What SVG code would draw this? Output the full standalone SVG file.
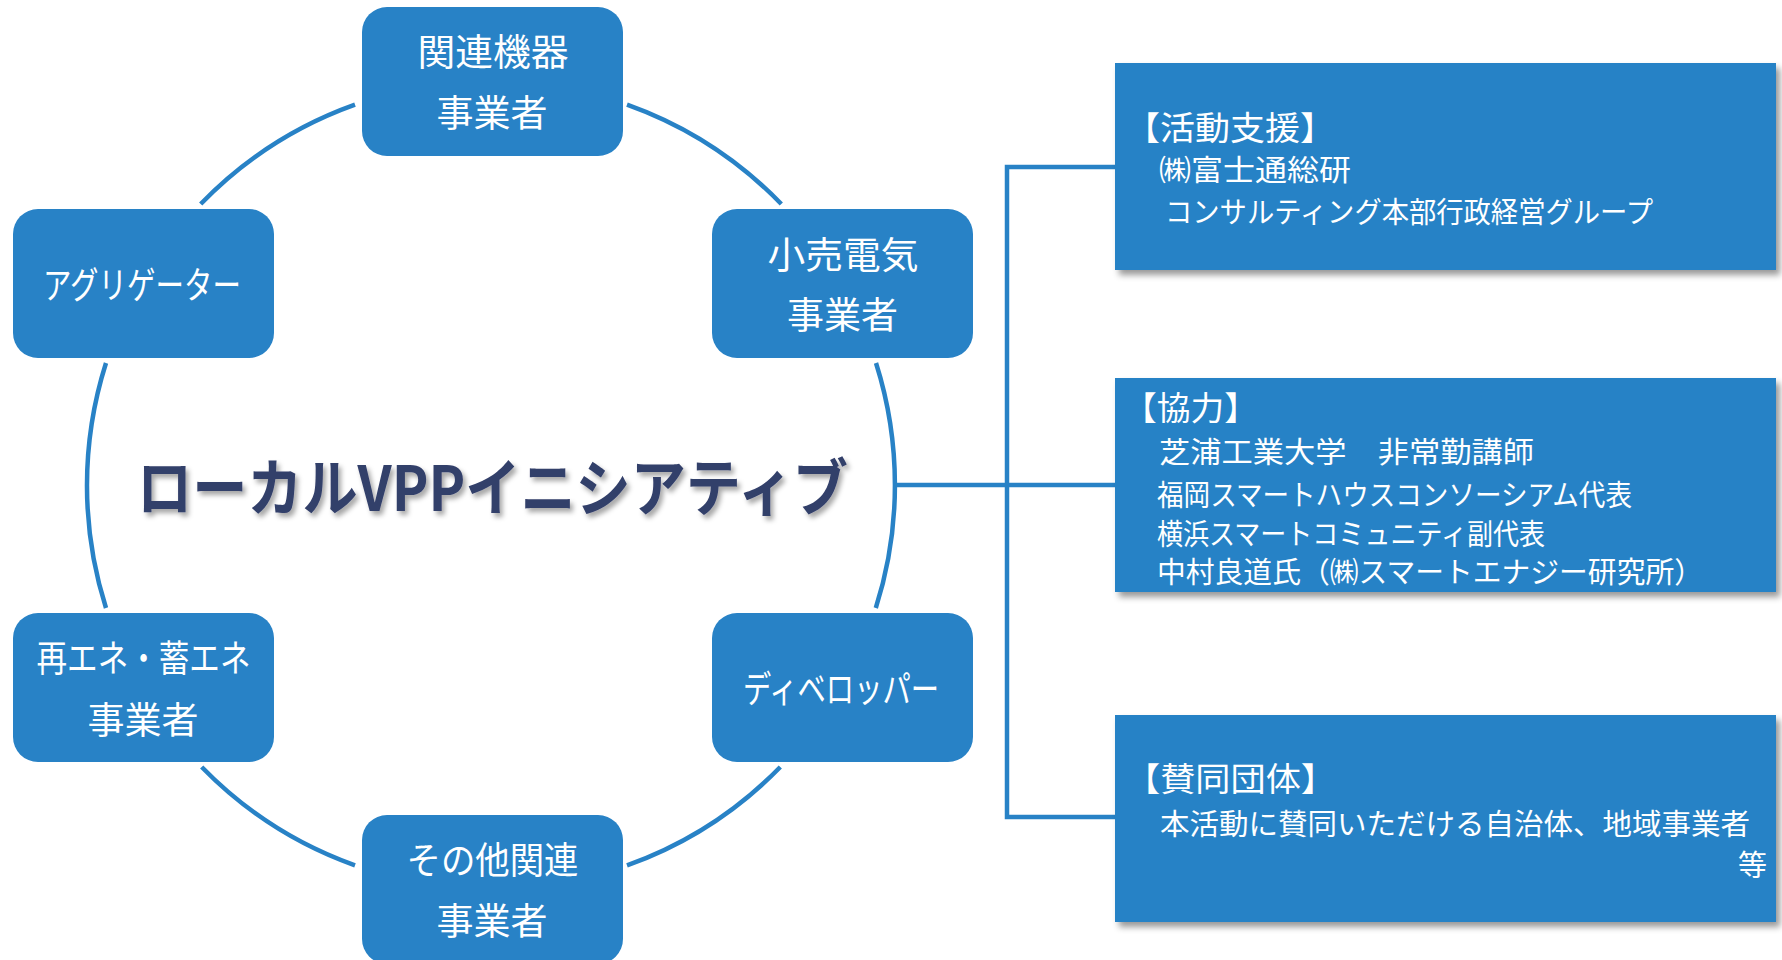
<svg xmlns="http://www.w3.org/2000/svg" width="1782" height="960" viewBox="0 0 1782 960">
  <defs>
    <filter id="boxShadow" x="-5%" y="-10%" width="115%" height="125%">
      <feDropShadow dx="4" dy="5" stdDeviation="3" flood-color="#000" flood-opacity="0.4"/>
    </filter>
    <filter id="titleShadow" x="-5%" y="-20%" width="110%" height="150%">
      <feDropShadow dx="3" dy="4" stdDeviation="2.5" flood-color="#000" flood-opacity="0.35"/>
    </filter>
  </defs>
  <style>
    .node { fill: #2882C6; }
    .box { fill: #2882C6; filter: url(#boxShadow); }
    .conn { fill: none; stroke: #2882C6; stroke-width: 4.5; }
    .nt { font-family: "Noto Sans CJK JP", "Noto Sans", sans-serif; font-size: 37px; fill: #FFFFFF; text-anchor: middle; }
    .hd { font-family: "Noto Sans CJK JP", "Noto Sans", sans-serif; font-size: 33px; fill: #FFFFFF; }
    .bt { font-family: "Noto Sans CJK JP", "Noto Sans", sans-serif; font-size: 29px; fill: #FFFFFF; }
    .title { font-family: "Noto Sans CJK JP", "Noto Sans", sans-serif; font-size: 62px; font-weight: 700; fill: #333F6A; filter: url(#titleShadow); }
  </style>
  <rect width="1782" height="960" fill="#FFFFFF"/>

  <g id="connectors">
    <path class="conn" d="M627,104.6 A404,404 0 0 1 781.3,204"/>
    <path class="conn" d="M876,363 A404,404 0 0 1 875.8,608"/>
    <path class="conn" d="M780.3,767 A404,404 0 0 1 627,865.4"/>
    <path class="conn" d="M355,865.4 A404,404 0 0 1 201.7,767"/>
    <path class="conn" d="M106,608 A404,404 0 0 1 106,363"/>
    <path class="conn" d="M200.7,204 A404,404 0 0 1 355,104.6"/>
    <path class="conn" d="M895,485 H1115"/>
    <path class="conn" d="M1115,167 H1007 V817 H1115"/>
  </g>

  <g id="title">
    <text class="title" x="137" y="511" textLength="711" lengthAdjust="spacingAndGlyphs">ローカルVPPイニシアティブ</text>
  </g>

  <g id="node-kanren">
    <rect class="node" x="362" y="7" width="261" height="149" rx="25"/>
    <text class="nt" x="493" y="66" textLength="151" lengthAdjust="spacingAndGlyphs">関連機器</text>
    <text class="nt" x="492" y="127" textLength="111" lengthAdjust="spacingAndGlyphs">事業者</text>
  </g>
  <g id="node-kouri">
    <rect class="node" x="712" y="209" width="261" height="149" rx="25"/>
    <text class="nt" x="843" y="269" textLength="151" lengthAdjust="spacingAndGlyphs">小売電気</text>
    <text class="nt" x="842.5" y="329" textLength="111" lengthAdjust="spacingAndGlyphs">事業者</text>
  </g>
  <g id="node-developer">
    <rect class="node" x="712" y="613" width="261" height="149" rx="25"/>
    <text class="nt" x="841" y="703" textLength="196" lengthAdjust="spacingAndGlyphs">ディベロッパー</text>
  </g>
  <g id="node-sonota">
    <rect class="node" x="362" y="815" width="261" height="149" rx="25"/>
    <text class="nt" x="492.5" y="874" textLength="172" lengthAdjust="spacingAndGlyphs">その他関連</text>
    <text class="nt" x="492" y="935" textLength="111" lengthAdjust="spacingAndGlyphs">事業者</text>
  </g>
  <g id="node-saiene">
    <rect class="node" x="13" y="613" width="261" height="149" rx="25"/>
    <text class="nt" x="143.5" y="672" textLength="214" lengthAdjust="spacingAndGlyphs">再エネ・蓄エネ</text>
    <text class="nt" x="143" y="734" textLength="111" lengthAdjust="spacingAndGlyphs">事業者</text>
  </g>
  <g id="node-aggregator">
    <rect class="node" x="13" y="209" width="261" height="149" rx="25"/>
    <text class="nt" x="142" y="299" textLength="198" lengthAdjust="spacingAndGlyphs">アグリゲーター</text>
  </g>

  <g id="box-shien">
    <rect class="box" x="1115" y="63" width="661" height="207"/>
    <text class="hd" x="1125" y="140" textLength="210" lengthAdjust="spacingAndGlyphs">【活動支援】</text>
    <text class="bt" x="1159" y="181" textLength="192" lengthAdjust="spacingAndGlyphs">㈱富士通総研</text>
    <text class="bt" x="1165" y="223" textLength="488" lengthAdjust="spacingAndGlyphs">コンサルティング本部行政経営グループ</text>
  </g>
  <g id="box-kyouryoku">
    <rect class="box" x="1115" y="378" width="661" height="214"/>
    <text class="hd" x="1123" y="420" textLength="135" lengthAdjust="spacingAndGlyphs">【協力】</text>
    <text class="bt" x="1159" y="463" textLength="375" lengthAdjust="spacingAndGlyphs">芝浦工業大学　非常勤講師</text>
    <text class="bt" x="1157" y="506" textLength="475" lengthAdjust="spacingAndGlyphs">福岡スマートハウスコンソーシアム代表</text>
    <text class="bt" x="1157" y="545" textLength="388" lengthAdjust="spacingAndGlyphs">横浜スマートコミュニティ副代表</text>
    <text class="bt" x="1157" y="583" textLength="546" lengthAdjust="spacingAndGlyphs">中村良道氏（㈱スマートエナジー研究所）</text>
  </g>
  <g id="box-sandou">
    <rect class="box" x="1115" y="715" width="661" height="207"/>
    <text class="hd" x="1125" y="791" textLength="211" lengthAdjust="spacingAndGlyphs">【賛同団体】</text>
    <text class="bt" x="1160" y="835" textLength="590" lengthAdjust="spacingAndGlyphs">本活動に賛同いただける自治体、地域事業者</text>
    <text class="bt" x="1767" y="876" text-anchor="end">等</text>
  </g>
</svg>
